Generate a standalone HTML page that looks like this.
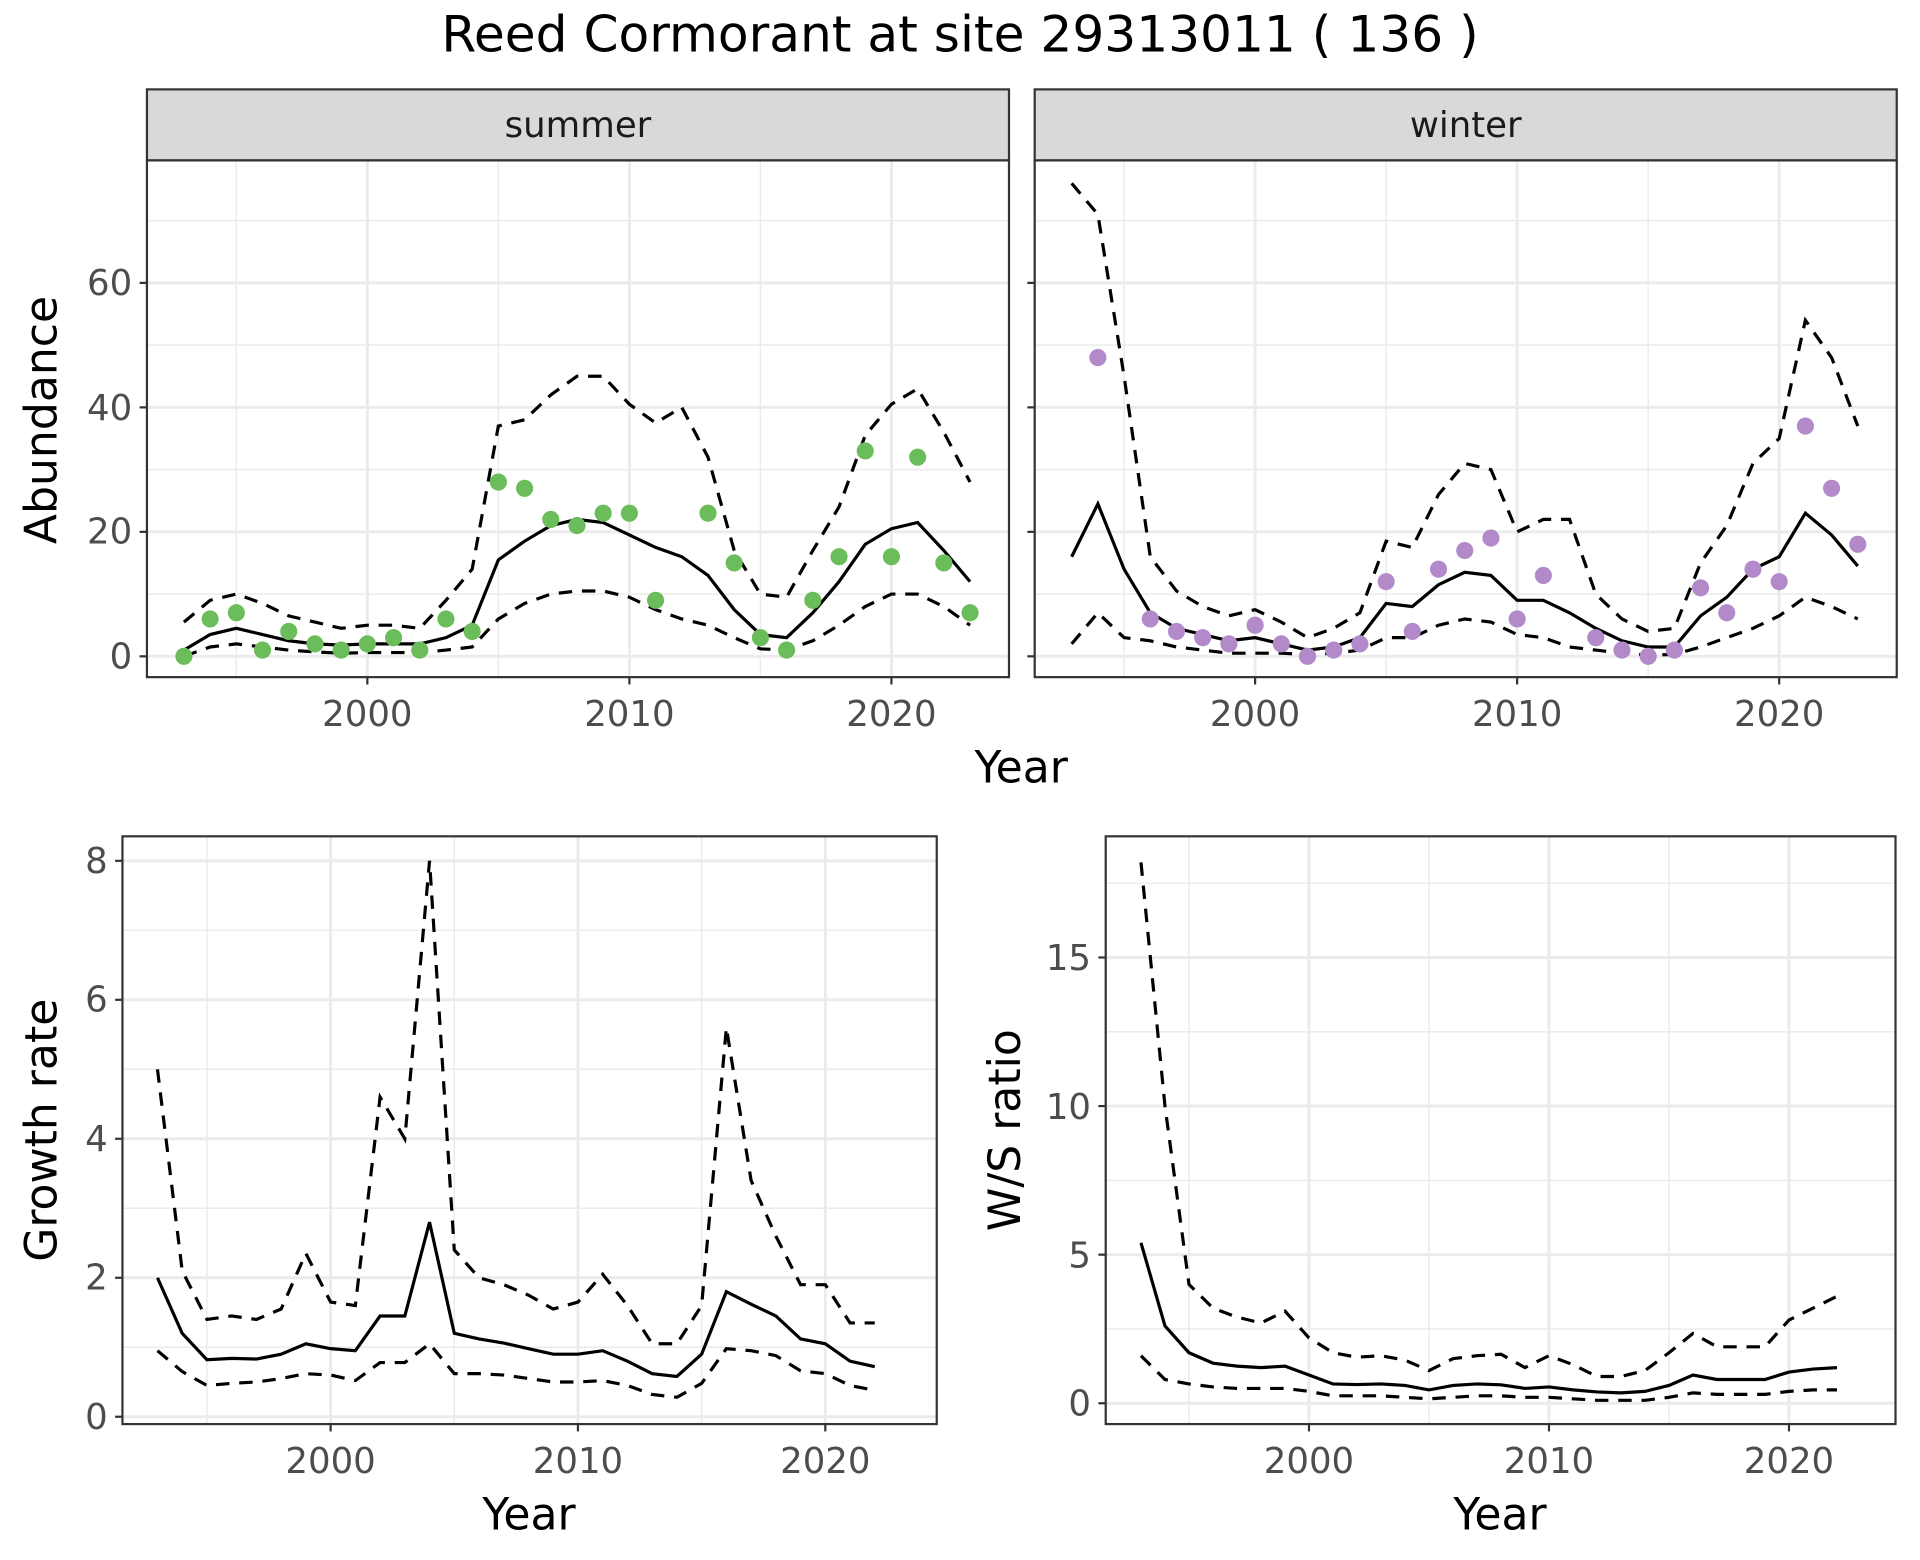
<!DOCTYPE html>
<html><head><meta charset="utf-8"><style>
html,body{margin:0;padding:0;background:#fff;}
svg{display:block;}
text{font-family:"DejaVu Sans","Liberation Sans",sans-serif;}
</style></head><body>
<svg id="s" width="1920" height="1560" viewBox="0 0 1568 1274" preserveAspectRatio="none" xmlns="http://www.w3.org/2000/svg">
<rect width="1568" height="1274" fill="#fff"/>
<g id="grid"></g>
<g id="data"></g>
<text x="784" y="42" font-size="41" text-anchor="middle" fill="#000">Reed Cormorant at site 29313011 ( 136 )</text>
<rect x="120" y="73" width="704" height="58" fill="#d9d9d9" stroke="#333" stroke-width="1.8"/>
<rect x="845" y="73" width="704" height="58" fill="#d9d9d9" stroke="#333" stroke-width="1.8"/>
<text x="472" y="112" font-size="29" text-anchor="middle" fill="#1a1a1a">summer</text>
<text x="1197" y="112" font-size="29" text-anchor="middle" fill="#1a1a1a">winter</text>
<g font-size="29" fill="#4d4d4d" text-anchor="end">
<text x="108" y="546">0</text><text x="108" y="444">20</text><text x="108" y="343">40</text><text x="108" y="241">60</text>
</g>
<g font-size="29" fill="#4d4d4d" text-anchor="middle">
<text x="300" y="593">2000</text><text x="514" y="593">2010</text><text x="728" y="593">2020</text>
<text x="1025" y="593">2000</text><text x="1239" y="593">2010</text><text x="1453" y="593">2020</text>
<text x="270" y="1203">2000</text><text x="472" y="1203">2010</text><text x="674" y="1203">2020</text>
<text x="1069" y="1203">2000</text><text x="1265" y="1203">2010</text><text x="1461" y="1203">2020</text>
</g>
<g font-size="29" fill="#4d4d4d" text-anchor="end">
<text x="88" y="1167">0</text><text x="88" y="1053">2</text><text x="88" y="940">4</text><text x="88" y="826">6</text><text x="88" y="713">8</text>
<text x="891" y="1156">0</text><text x="891" y="1035">5</text><text x="891" y="914">10</text><text x="891" y="792">15</text>
</g>
<g font-size="36" fill="#000" text-anchor="middle">
<text x="834" y="639">Year</text>
<text x="432" y="1249">Year</text>
<text x="1225" y="1249">Year</text>
<text transform="translate(46,343) rotate(-90)">Abundance</text>
<text transform="translate(46,923) rotate(-90)">Growth rate</text>
<text transform="translate(833,923) rotate(-90)">W/S ratio</text>
</g>
<g fill="none" stroke="#333" stroke-width="1.8">
<rect x="120" y="131" width="704" height="422"/>
<rect x="845" y="131" width="704" height="422"/>
<rect x="100" y="683" width="665" height="480"/>
<rect x="903" y="683" width="645" height="480"/>
</g>
</svg>
<script>
var NS="http://www.w3.org/2000/svg";
function el(p,t,a){var e=document.createElementNS(NS,t);for(var k in a)e.setAttribute(k,a[k]);document.getElementById(p).appendChild(e);return e;}
function panel(P){
 P.ymin.forEach(function(v){var y=P.fy(v);el('grid','line',{x1:P.x0,x2:P.x1,y1:y,y2:y,stroke:'#ebebeb','stroke-width':1.2});});
 P.xmin.forEach(function(v){var x=P.fx(v);el('grid','line',{x1:x,x2:x,y1:P.y0,y2:P.y1,stroke:'#ebebeb','stroke-width':1.2});});
 P.ymaj.forEach(function(v){var y=P.fy(v);el('grid','line',{x1:P.x0,x2:P.x1,y1:y,y2:y,stroke:'#ebebeb','stroke-width':2.4});
   el('grid','line',{x1:P.x0-6,x2:P.x0,y1:y,y2:y,stroke:'#333','stroke-width':1.8});});
 P.xmaj.forEach(function(v){var x=P.fx(v);el('grid','line',{x1:x,x2:x,y1:P.y0,y2:P.y1,stroke:'#ebebeb','stroke-width':2.4});
   el('grid','line',{x1:x,x2:x,y1:P.y1,y2:P.y1+6,stroke:'#333','stroke-width':1.8});});
 function line(arr,dash){var pts=arr.map(function(v,i){return P.fx(1993+i)+','+P.fy(v);}).join(' ');
  var a={points:pts,fill:'none',stroke:'#000','stroke-width':2.6};if(dash)a['stroke-dasharray']='11,8';el('data','polyline',a);}
 line(P.up,1);line(P.lo,1);line(P.m,0);
 if(P.pts)P.pts.forEach(function(v,i){if(v!==null)el('data','circle',{cx:P.fx(1993+i),cy:P.fy(v),r:7,fill:P.col});});
}
var N=null;
panel({x0:120,x1:824,y0:131,y1:553,fx:function(y){return 300+(y-2000)*21.4},fy:function(v){return 536-v*5.083},
 ymaj:[0,20,40,60],ymin:[10,30,50,70],xmaj:[2000,2010,2020],xmin:[1995,2005,2015],col:'#6abd5a',
 pts:[0,6,7,1,4,2,1,2,3,1,6,4,28,27,22,21,23,23,9,N,23,15,3,1,9,16,33,16,32,15,7],
 m:[1,3.5,4.5,3.5,2.5,2,1.8,2,2,2,3,5,15.5,18.5,21,22,21.5,19.5,17.5,16,13,7.5,3.5,3,7,12,18,20.5,21.5,17,12],
 up:[5.5,9,10,8.5,6.5,5.5,4.5,5,5,4.5,9,14,37,38,42,45,45,40.5,37.5,40,32,17,10,9.5,17,24,35.5,40.5,43,36,28],
 lo:[0,1.5,2,1.5,1,0.7,0.5,0.6,0.6,0.6,1,1.5,6,8.5,10,10.5,10.5,9.5,7.5,6,5,3,1.2,1,2.5,5,8,10,10,8,5]});
panel({x0:845,x1:1549,y0:131,y1:553,fx:function(y){return 1025+(y-2000)*21.4},fy:function(v){return 536-v*5.083},
 ymaj:[0,20,40,60],ymin:[10,30,50,70],xmaj:[2000,2010,2020],xmin:[1995,2005,2015],col:'#b28ac9',
 pts:[N,48,N,6,4,3,2,5,2,0,1,2,12,4,14,17,19,6,13,N,3,1,0,1,11,7,14,12,37,27,18],
 m:[16,24.5,14,7,4.5,3.5,2.5,3,2,1,1.5,3,8.5,8,11.5,13.5,13,9,9,7,4.5,2.5,1.5,1.5,6.5,9.5,14,16,23,19.5,14.5],
 up:[76,71,45,16,10.5,8,6.5,7.5,5.5,3,4.5,7,18.5,17.5,26,31,30,20,22,22,10,6,4,4.5,15,21,31,35,54,48,37],
 lo:[2,7,3,2.5,1.5,1,0.5,0.5,0.5,0.3,0.5,1,3,3,5,6,5.5,3.5,3,1.5,1,0.5,0.2,0.3,1.5,3,4.5,6.5,9.5,8,6]});
panel({x0:100,x1:765,y0:683,y1:1163,fx:function(y){return 270+(y-2000)*20.2},fy:function(v){return 1157-v*56.75},
 ymaj:[0,2,4,6,8],ymin:[1,3,5,7],xmaj:[2000,2010,2020],xmin:[1995,2005,2015],
 m:[2,1.2,0.82,0.84,0.83,0.9,1.05,0.98,0.95,1.45,1.45,2.8,1.2,1.12,1.06,0.98,0.9,0.9,0.95,0.8,0.62,0.58,0.9,1.8,1.62,1.45,1.12,1.05,0.8,0.72],
 up:[5,2.1,1.4,1.45,1.4,1.55,2.35,1.65,1.6,4.6,4,8,2.4,2,1.9,1.75,1.55,1.65,2.05,1.6,1.05,1.05,1.6,5.6,3.4,2.6,1.9,1.9,1.35,1.35],
 lo:[0.95,0.65,0.45,0.48,0.5,0.55,0.62,0.6,0.52,0.78,0.78,1.05,0.62,0.62,0.6,0.55,0.5,0.5,0.52,0.45,0.32,0.28,0.48,0.98,0.95,0.88,0.66,0.62,0.45,0.38]});
panel({x0:903,x1:1548,y0:683,y1:1163,fx:function(y){return 1069+(y-2000)*19.6},fy:function(v){return 1146-v*24.27},
 ymaj:[0,5,10,15],ymin:[2.5,7.5,12.5,17.5],xmaj:[2000,2010,2020],xmin:[1995,2005,2015],
 m:[5.4,2.6,1.7,1.35,1.25,1.2,1.25,0.95,0.65,0.63,0.65,0.6,0.45,0.6,0.65,0.62,0.5,0.55,0.45,0.38,0.35,0.4,0.6,0.95,0.8,0.8,0.8,1.05,1.15,1.2],
 up:[18.2,10,4,3.2,2.9,2.7,3.1,2.2,1.7,1.55,1.6,1.45,1.1,1.5,1.6,1.65,1.2,1.6,1.3,0.9,0.9,1.1,1.7,2.35,1.9,1.9,1.9,2.8,3.2,3.6],
 lo:[1.6,0.8,0.65,0.55,0.5,0.5,0.5,0.4,0.25,0.25,0.25,0.2,0.15,0.2,0.25,0.25,0.2,0.2,0.15,0.1,0.1,0.1,0.2,0.35,0.3,0.3,0.3,0.4,0.45,0.45]});
</script>
</body></html>
